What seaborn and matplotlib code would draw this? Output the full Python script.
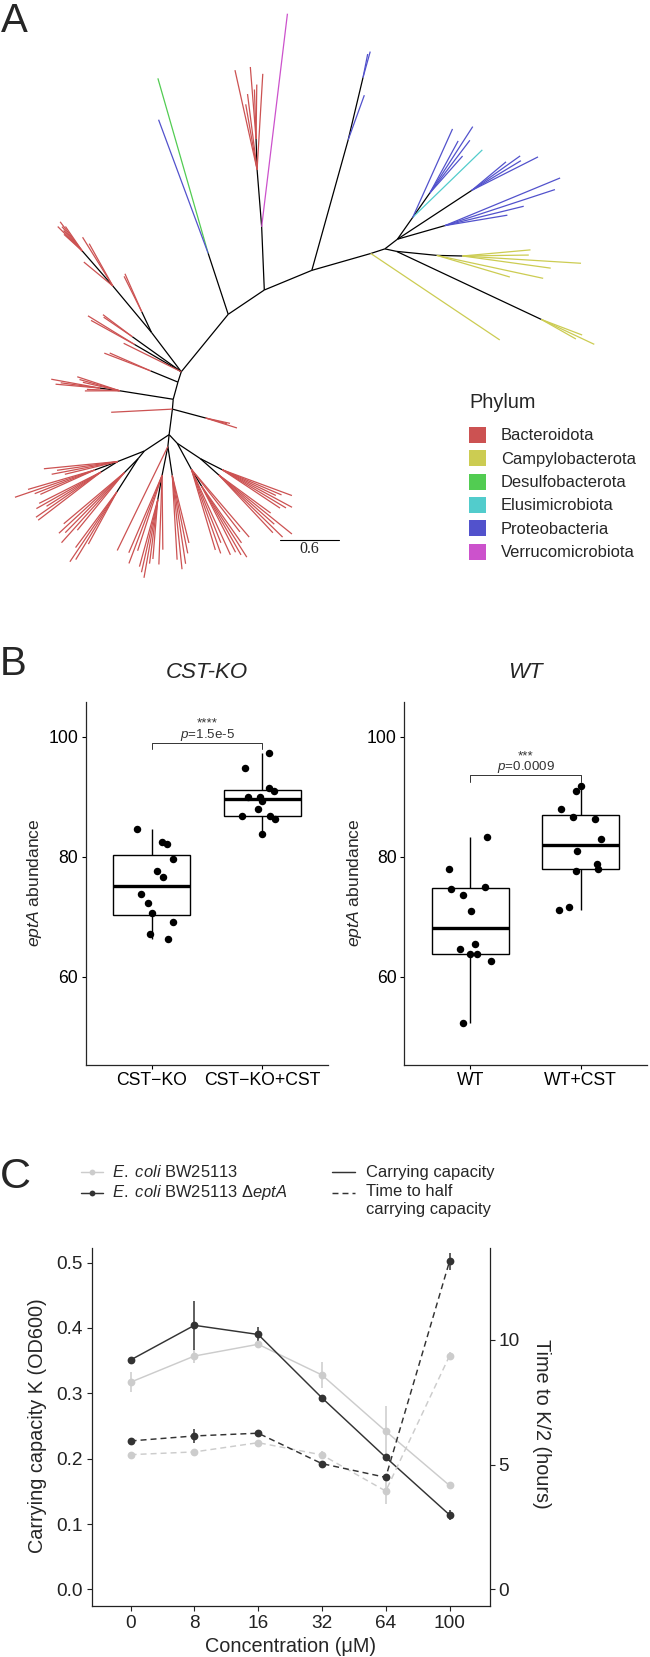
import re
import numpy as np
import pandas as pd
import matplotlib
matplotlib.use("Agg")
import matplotlib.pyplot as plt
from matplotlib.collections import LineCollection
from matplotlib.lines import Line2D
from matplotlib.patches import Rectangle
import seaborn as sns

W, H = 650, 1657

# ---------------- Panel A: eptA tree (newick clades, leaf label = phylum code) ----------------
phyla = ["Bacteroidota", "Campylobacterota", "Desulfobacterota",
         "Elusimicrobiota", "Proteobacteria", "Verrucomicrobiota"]
phylum_codes = ["B", "C", "D", "E", "P", "V"]
phylum_colors = ["#CC5252", "#CCCC52", "#52CC52", "#52CCCC", "#5252CC", "#CC52CC"]

camp_b = "(C:0.40,C:0.59,C:0.44):1.62"
camp_a = "(C:0.77,C:1.10,(C:0.90,C:1.20,C:0.67,C:0.69):0.26):0.41"
proteo_c = "(P:0.64,P:0.82,P:1.17,P:1.26):0.50"
proteo_b = "(P:0.75,P:0.58,P:0.60,P:0.45):0.90"
proteo_a = "(E:0.98,(P:0.50,P:0.67,P:0.80,P:0.60):0.30,P:0.98):0.27"
proteo_top = "(P:0.48,(P:0.27,P:0.24):0.65):1.37"
bact_top = "(B:0.97,(B:0.55,B:0.50,B:0.73):0.31,B:0.77,B:0.67,B:1.03):0.58"
desulfo_pair = "(D:1.84,P:1.44):0.65"
bact_ul = "((B:0.42,B:0.40):0.23,(B:0.49,B:0.58,(B:0.30,B:0.37,B:0.32,B:0.28,B:0.35,B:0.25):0.47,B:0.38):0.61):0.50"
bact_x1 = "(B:0.37,B:0.35):0.61"
bact_x2 = "(B:0.55,B:0.50):0.55"
bact_x3 = "(B:0.45,B:0.50):0.30"
bact_m1 = "(B:0.45,B:0.42,B:0.38,(B:0.50,B:0.40,B:0.45):0.20,B:0.33,B:0.35):0.55"
bact_m2 = "(B:0.33,B:0.22,B:0.25):0.35"
bact_d3 = ("((B:0.75,B:0.62,B:0.68,B:0.55,(B:0.70,B:0.85,B:0.65,B:0.60):0.25,"
           "(B:0.70,B:0.75,B:0.65,B:0.80,B:0.80):0.20):0.29,"
           "((B:0.80,B:0.90,B:0.85,B:0.95,B:0.75):0.20,(B:0.70,B:0.85,B:0.80,B:0.60):0.40):0.10):0.30")
bact_d2 = ("(B:1.17,(B:0.85,B:0.95,B:0.80,(B:0.70,B:0.75,B:0.80,B:0.65,B:0.60):0.25,B:0.90,B:0.75):0.30,"
           "(B:0.85,B:0.95,B:0.90,B:0.80,B:0.70):0.30):0.12")
bact_d1 = ("((B:0.85,B:0.90,B:0.80,B:0.95,(B:0.75,B:0.80,B:0.85,B:0.70):0.20,B:0.80,B:0.90):0.30,"
           "((B:0.80,B:0.90,B:0.75,B:0.95,B:0.65):0.25,(B:0.70,B:0.75,B:0.80,B:0.60,B:0.65,B:0.75):0.25):0.28):0.12")

# ---------------- Panel B: eptA abundance ----------------
ko_labels = ["CST\u2212KO", "CST\u2212KO+CST"]
wt_labels = ["WT", "WT+CST"]
cstko = [84.6, 82.4, 82.1, 79.6, 77.6, 76.6, 73.8, 72.3, 70.6, 69.2, 67.1, 66.3]
cstko_jit = [-0.13, 0.09, 0.14, 0.19, 0.05, 0.10, -0.10, -0.03, 0.0, 0.19, -0.02, 0.15]
cstko_cst = [97.3, 94.7, 91.5, 90.9, 90.0, 90.0, 89.3, 88.0, 86.7, 86.8, 86.2, 83.7]
cstko_cst_jit = [0.06, -0.16, 0.06, 0.11, -0.13, -0.02, 0.0, -0.04, -0.18, 0.07, 0.12, 0.0]
wt = [83.3, 78.0, 74.7, 74.9, 73.7, 70.9, 65.5, 64.6, 63.8, 63.8, 62.6, 52.3]
wt_jit = [0.15, -0.19, -0.17, 0.13, -0.07, 0.01, 0.04, -0.09, 0.0, 0.06, 0.19, -0.07]
wt_cst = [91.7, 91.0, 87.9, 86.6, 86.2, 82.9, 81.0, 78.8, 78.0, 77.6, 71.7, 71.2]
wt_cst_jit = [0.0, -0.04, -0.18, -0.07, 0.13, 0.18, -0.03, 0.15, 0.16, -0.04, -0.11, -0.20]
ko_sig = {"y": 99.0, "stars": "****", "p": "1.5e-5"}
wt_sig = {"y": 93.6, "stars": "***", "p": "0.0009"}

# ---------------- Panel C: growth curves ----------------
conc = ["0", "8", "16", "32", "64", "100"]
strains = ["BW25113", "BW25113 dEptA"]
k_wt = [0.317, 0.357, 0.375, 0.328, 0.242, 0.159]
k_wt_err = [0.015, 0.011, 0.005, 0.020, 0.038, 0.005]
k_ko = [0.351, 0.404, 0.390, 0.293, 0.202, 0.114]
k_ko_err = [0.005, 0.037, 0.011, 0.005, 0.005, 0.008]
t_wt = [5.40, 5.51, 5.88, 5.39, 3.94, 9.36]
t_wt_err = [0.10, 0.10, 0.10, 0.14, 0.53, 0.15]
t_ko = [5.95, 6.15, 6.26, 5.04, 4.49, 13.15]
t_ko_err = [0.10, 0.28, 0.10, 0.10, 0.10, 0.34]
HOURS_PER_K = 26.2   # secondary axis: hours = K * 26.2

LIGHT, DARK = "#CCCCCC", "#333333"
DASH = [4.3, 2.9]


def parse_newick(s):
    pos = 0

    def node():
        nonlocal pos
        kids = []
        if s[pos] == "(":
            pos += 1
            while True:
                kids.append(node())
                ch = s[pos]
                pos += 1
                if ch == ")":
                    break
        m = re.match(r"([A-Za-z]*)(?::([0-9.]+))?", s[pos:])
        pos += m.end()
        return {"label": m.group(1), "len": float(m.group(2) or 0), "kids": kids}

    return node()


def weight(n, w):
    if not n["kids"]:
        return w.get(n["label"], 1.0)
    return sum(weight(k, w) for k in n["kids"])


def equal_angle(n, x, y, a0, a1, w, segs):
    total = weight(n, w)
    a = a0
    for k in n["kids"]:
        b = a + (a1 - a0) * weight(k, w) / total
        mid = 0.5 * (a + b)
        cx, cy = x + k["len"] * np.cos(mid), y + k["len"] * np.sin(mid)
        segs.append((x, y, cx, cy, k["label"] if not k["kids"] else ""))
        equal_angle(k, cx, cy, a, b, w, segs)
        a = b


def px_axes(fig, x0, y0, x1, y1):
    return fig.add_axes([x0 / W, 1 - y1 / H, (x1 - x0) / W, (y1 - y0) / H])


def box_panel(ax, labels, groups, jitters, sig, title):
    df = pd.DataFrame({"group": np.repeat(labels, [len(g) for g in groups]),
                       "abundance": np.concatenate(groups)})
    sns.boxplot(data=df, x="group", y="abundance", order=labels, width=0.7,
                color="white", linecolor="black", linewidth=1.0, showfliers=False,
                showcaps=False, medianprops={"linewidth": 2.4}, ax=ax)
    for i, (g, j) in enumerate(zip(groups, jitters)):
        sns.scatterplot(x=i + np.asarray(j), y=g, color="black", s=29,
                        linewidth=0, ax=ax, zorder=3)
    y = sig["y"]
    ax.plot([0, 0, 1, 1], [y - 1.1, y, y, y - 1.1], color="#333333", lw=0.7)
    ax.text(0.5, y + 2.6, sig["stars"], ha="center", va="baseline",
            fontsize=9.6, color="#333333")
    ax.text(0.5, y + 0.8, r"$\mathit{p}$=" + sig["p"], ha="center", va="baseline",
            fontsize=9.6, color="#333333")
    ax.set_xlim(-0.6, 1.6)
    ax.set_ylim(45.4, 105.8)
    ax.set_yticks([60, 80, 100])
    ax.set_xticks([0, 1])
    ax.set_xticklabels(labels)
    ax.set_xlabel("")
    ax.set_ylabel("")
    ax.tick_params(labelsize=12.7, length=3, width=0.8, pad=2.2, colors="black")
    sns.despine(ax=ax)
    for sp in ("left", "bottom"):
        ax.spines[sp].set_linewidth(0.9)
    ax.set_title(title, fontsize=16, style="italic", pad=17)


sns.set_style("ticks")
plt.rcParams["font.family"] = ["Liberation Sans", "DejaVu Sans"]
plt.rcParams["mathtext.fontset"] = "custom"
plt.rcParams["mathtext.rm"] = "Liberation Sans"
plt.rcParams["mathtext.it"] = "Liberation Sans:italic"
plt.rcParams["lines.scale_dashes"] = False

fig = plt.figure(figsize=(W / 100, H / 100), dpi=100)
ov = fig.add_axes([0, 0, 1, 1])
ov.set_xlim(0, W)
ov.set_ylim(H, 0)
ov.axis("off")

# ---- A: tree ----
n1 = f"(({camp_b},{camp_a}):0.12,({proteo_c},{proteo_b},{proteo_a}):0.16):0.15"
n2 = f"(C:1.57,{n1}):0.62"
n3 = f"({n2},{proteo_top}):0.52"
n4 = f"({n3},(V:2.17,{bact_top}):0.64):0.44"
n10 = f"({bact_d3},{bact_d2},{bact_d1}):0.26"
n9 = f"(B:0.62,{n10},{bact_m2}):0.10"
n8 = f"({bact_m1},{n9}):0.18"
n7 = f"({bact_x3},{n8}):0.11"
n6 = f"({bact_ul},{bact_x1},{bact_x2},B:0.65,{n7}):0.75"
tree = parse_newick(f"({n4},{desulfo_pair},{n6});")

leaf_w = {c: (1.0 if c == "B" else 1.63) for c in phylum_codes}
segs = []
start = np.deg2rad(-36)
equal_angle(tree, 0.0, 0.0, start, start + np.deg2rad(385), leaf_w, segs)
scale, ox, oy = 98.9, 228.2, 314.3
col_of = dict(zip(phylum_codes, phylum_colors))
lines = [[(ox + scale * a, oy - scale * b), (ox + scale * c, oy - scale * d)] for a, b, c, d, _ in segs]
cols = [col_of.get(lab, "black") for *_, lab in segs]
order = np.argsort([0 if c == "black" else 1 for c in cols])
ov.add_collection(LineCollection([lines[i] for i in order], colors=[cols[i] for i in order],
                                 linewidths=0.9, capstyle="butt"))

# scale bar
ov.plot([280, 280 + 0.6 * scale], [540, 540], color="black", lw=0.8)
ov.text(280 + 0.3 * scale, 549, "0.6", ha="center", va="center", fontsize=11.5,
        family="Liberation Serif")

# phylum legend
ov.text(469, 402, "Phylum", ha="left", va="center", fontsize=14.3)
for i, (name, c) in enumerate(zip(phyla, phylum_colors)):
    yy = 434.8 + i * 23.36
    ov.add_patch(Rectangle((469, yy - 8), 16.5, 16, facecolor=c, edgecolor="none"))
    ov.text(500.8, yy + 1, name, ha="left", va="center", fontsize=11.9)

# ---- B: boxplots ----
axl = px_axes(fig, 85.5, 701.7, 328.5, 1064.6)
box_panel(axl, ko_labels, [cstko, cstko_cst], [cstko_jit, cstko_cst_jit], ko_sig, "CST-KO")
axr = px_axes(fig, 404.0, 701.7, 647.0, 1064.6)
box_panel(axr, wt_labels, [wt, wt_cst], [wt_jit, wt_cst_jit], wt_sig, "WT")
for xc in (35, 354):
    ov.text(xc, 883, r"$\mathit{eptA}$ abundance", rotation=90, ha="center", va="center",
            fontsize=12.6)

# ---- C: carrying capacity and time to K/2 ----
axc = px_axes(fig, 91.7, 1248.2, 489.7, 1605.7)
axt = axc.twinx()
pos = np.arange(len(conc))
df_k = pd.DataFrame({"pos": np.tile(pos, 2), "val": k_wt + k_ko,
                     "strain": np.repeat(strains, len(conc))})
df_t = pd.DataFrame({"pos": np.tile(pos, 2), "val": t_wt + t_ko,
                     "strain": np.repeat(strains, len(conc))})
pal = dict(zip(strains, [LIGHT, DARK]))
for a, df, errs in ((axc, df_k, (k_wt_err, k_ko_err)), (axt, df_t, (t_wt_err, t_ko_err))):
    for s, e in zip(strains, errs):
        v = df.loc[df.strain == s, "val"].to_numpy()
        a.vlines(pos, v - np.asarray(e), v + np.asarray(e), color=pal[s], lw=1.1, zorder=2)
    sns.lineplot(data=df, x="pos", y="val", hue="strain", hue_order=strains, palette=pal,
                 marker="o", markersize=5.6, markeredgewidth=0, linewidth=1.05,
                 legend=False, ax=a, zorder=3)
for ln in axt.get_lines():
    ln.set_dashes(DASH)

axc.set_xlim(-0.61, 5.63)
axc.set_ylim(-0.025, 0.522)
axt.set_ylim(-0.025 * HOURS_PER_K, 0.522 * HOURS_PER_K)
axc.set_xticks(pos)
axc.set_xticklabels(conc)
axc.set_yticks([0, 0.1, 0.2, 0.3, 0.4, 0.5])
axc.set_yticklabels(["0.0", "0.1", "0.2", "0.3", "0.4", "0.5"])
axt.set_yticks([0, 5, 10])
for a in (axc, axt):
    a.set_xlabel("")
    a.set_ylabel("")
    a.tick_params(labelsize=13.7, length=3.6, width=0.8, pad=3, colors="#222222")
axt.tick_params(pad=2.5)
axc.spines["top"].set_visible(False)
axc.spines["right"].set_visible(False)
axt.spines["top"].set_visible(False)
axt.spines["left"].set_visible(False)
axt.spines["bottom"].set_visible(False)
for sp in (axc.spines["left"], axc.spines["bottom"], axt.spines["right"]):
    sp.set_linewidth(0.9)
    sp.set_color("#222222")

ov.text(37.5, 1426, "Carrying capacity K (OD600)", rotation=90, ha="center", va="center",
        fontsize=14.3)
ov.text(541, 1424, "Time to K/2 (hours)", rotation=270, ha="center", va="center",
        fontsize=14.3)
ov.text(290.7, 1646, "Concentration (\u03bcM)", ha="center", va="center", fontsize=14.3)

# legend of C
leg_rows = [1172.2, 1193.0]
for yy, c in zip(leg_rows, [LIGHT, DARK]):
    ov.add_line(Line2D([80.6, 103.3], [yy, yy], color=c, lw=1.05))
    ov.add_line(Line2D([92.0], [yy], color=c, marker="o", markersize=4.2, markeredgewidth=0))
ov.text(112.4, leg_rows[0], r"$\mathit{E.\ coli}$ BW25113", ha="left", va="center", fontsize=11.9)
ov.text(112.4, leg_rows[1], r"$\mathit{E.\ coli}$ BW25113 $\mathit{" + "\u0394" + r"eptA}$",
        ha="left", va="center", fontsize=11.9)
ov.add_line(Line2D([331.8, 354.5], [leg_rows[0]] * 2, color=DARK, lw=1.05))
dash = Line2D([331.8, 354.5], [leg_rows[1]] * 2, color=DARK, lw=1.05)
dash.set_dashes(DASH)
ov.add_line(dash)
ov.text(366.5, leg_rows[0], "Carrying capacity", ha="left", va="center", fontsize=11.9)
ov.text(366.5, leg_rows[1] - 9, "Time to half\ncarrying capacity", ha="left", va="top",
        fontsize=11.9, linespacing=1.27)

# panel letters
ov.text(1, 2, "A", ha="left", va="top", fontsize=29)
ov.text(0, 645, "B", ha="left", va="top", fontsize=29)
ov.text(0, 1157, "C", ha="left", va="top", fontsize=31)

fig.savefig("out.png", dpi=100)
